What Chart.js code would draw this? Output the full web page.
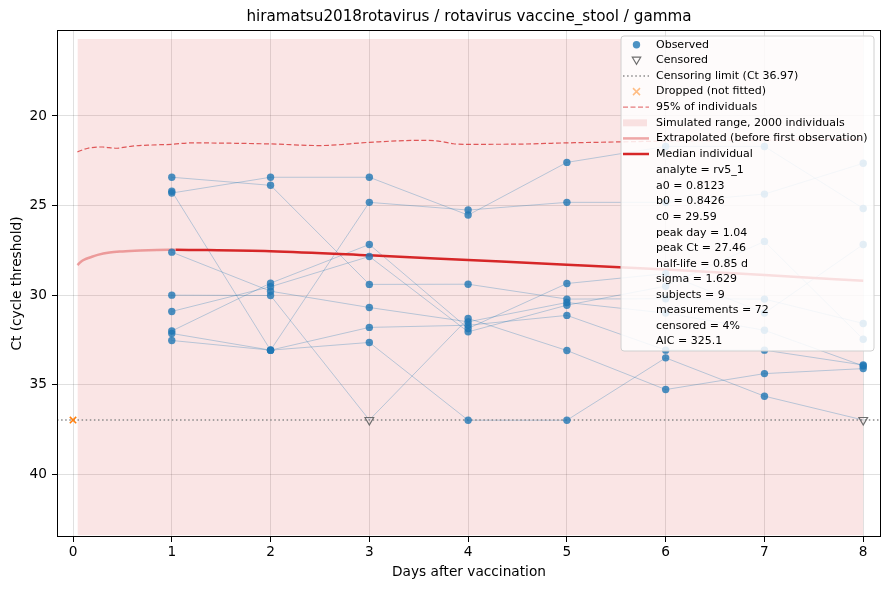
<!DOCTYPE html>
<html><head><meta charset="utf-8">
<script src="https://cdn.jsdelivr.net/npm/chart.js@4.4.1/dist/chart.umd.min.js"></script>
<style>html,body{margin:0;padding:0;background:#fff}#wrap{width:889px;height:590px;position:relative}</style>
</head><body><div id="wrap"><canvas id="c" width="889" height="590"></canvas></div>
<script>
// ---------------- data ----------------
const titleText = 'hiramatsu2018rotavirus / rotavirus vaccine_stool / gamma';
const xLabel = 'Days after vaccination';
const yLabel = 'Ct (cycle threshold)';
const xTicks = [0,1,2,3,4,5,6,7,8];
const yTicks = [20,25,30,35,40];
const days = [1,2,3,4,5,6,7,8];
const censorLimit = 36.97;
// per-subject Ct values on days 1..8
const subj1 = [24.30, 23.42, 23.42, 25.53, 22.59, 21.70, 21.70, 25.16];
const subj2 = [24.20, 33.07, 24.82, 25.25, 24.82, 24.82, 24.36, 22.64];
const subj3 = [23.42, 23.87, 29.40, 29.39, 30.22, 30.20, 30.22, 31.58];
const subj4 = [32.53, 33.07, 32.64, 36.98, 36.98, 33.50, 35.64, 36.97];
const subj5 = [32.14, 33.07, 31.80, 31.68, 31.13, 33.07, 33.07, 33.90];
const subj6 = [32.00, 29.33, 27.17, 31.86, 29.35, 28.80, 31.00, 27.17];
const subj7 = [30.91, 29.53, 27.84, 32.05, 30.56, 29.50, 27.00, 32.46];
const subj8 = [27.60, 29.78, 30.69, 31.49, 30.41, 31.00, 31.96, 33.95];
const subj9 = [30.00, 30.02, 36.97, 31.30, 33.09, 35.27, 34.38, 34.10];
const subjects = [subj1, subj2, subj3, subj4, subj5, subj6, subj7, subj8, subj9];
// censored observations: subject number and day
const censoredSubject = [9, 4];
const censoredDay = [3, 8];
// dropped (not fitted)
const droppedDay = [0];
const droppedCt = [36.97];
// median individual (fitted), extrapolated part before first observation
const extrapDays = [0.045, 0.08, 0.12, 0.17, 0.25, 0.37, 0.5, 0.68, 0.85, 1.04];
const extrapCt   = [28.32, 28.13, 28.00, 27.90, 27.75, 27.62, 27.56, 27.51, 27.48, 27.46];
const medianDays = [1.04, 2, 3, 4, 5, 6, 7, 8];
const medianCt   = [27.46, 27.55, 27.78, 28.04, 28.30, 28.57, 28.88, 29.20];
// 95% of individuals
const p95Days = [0.045, 0.15, 0.3, 0.43, 0.6, 0.8, 1.0, 1.2, 1.6, 2.0, 2.5, 3.0, 3.5, 3.7, 3.85, 4.0, 4.5, 5.0, 5.5, 6.0, 7.0, 8.0];
const p95Ct   = [22.00, 21.80, 21.73, 21.80, 21.68, 21.62, 21.58, 21.50, 21.52, 21.56, 21.65, 21.47, 21.36, 21.40, 21.55, 21.58, 21.57, 21.50, 21.45, 21.40, 21.35, 21.30];
// simulated range
const bandDays = [0.045, 8];
const bandTop = [15.7, 15.7];
const bandBottom = [43.4, 43.4];
const legendItems = ['Observed','Censored','Censoring limit (Ct 36.97)','Dropped (not fitted)','95% of individuals','Simulated range, 2000 individuals','Extrapolated (before first observation)','Median individual'];
const legendStats = ['analyte = rv5_1','a0 = 0.8123','b0 = 0.8426','c0 = 29.59','peak day = 1.04','peak Ct = 27.46','half-life = 0.85 d','sigma = 1.629','subjects = 9','measurements = 72','censored = 4%','AIC = 325.1'];

// ---------------- build ----------------
const FONT = 'DejaVu Sans';
const isCens = (s, d) => censoredSubject.some((cs, k) => cs === s + 1 && censoredDay[k] === d);
const obsPts = [], censPts = [];
subjects.forEach((s, si) => days.forEach((d, di) => {
  if (isCens(si, d)) censPts.push({x: d, y: censorLimit}); else obsPts.push({x: d, y: s[di]});
}));
const zip = (xs, ys) => xs.map((x, i) => ({x, y: ys[i]}));
const XMIN = -0.162, XMAX = 8.18, YMIN = 15.2, YMAX = 43.5;

const datasets = [];
datasets.push({label:'obs', type:'scatter', data: obsPts, pointRadius:3.7, pointBackgroundColor:'rgba(31,119,180,0.8)', pointBorderWidth:0, pointBorderColor:'rgba(0,0,0,0)', order:1});
datasets.push({label:'cens', type:'scatter', data: censPts, pointStyle:'triangle', rotation:180, pointRadius:5, pointBackgroundColor:'rgba(255,255,255,0)', pointBorderColor:'#6e6e6e', pointBorderWidth:1.2, order:1});
datasets.push({label:'drop', type:'scatter', data: zip(droppedDay, droppedCt), pointStyle:'crossRot', pointRadius:4.5, pointBorderColor:'#ff7f0e', pointBorderWidth:1.6, order:1, clip:false});
datasets.push({label:'median', type:'line', data: zip(medianDays, medianCt), borderColor:'#d62728', borderWidth:2.5, pointRadius:0, cubicInterpolationMode:'monotone', order:2});
datasets.push({label:'extrap', type:'line', data: zip(extrapDays, extrapCt), borderColor:'rgba(214,39,40,0.4)', borderWidth:2.5, pointRadius:0, cubicInterpolationMode:'monotone', order:2});
datasets.push({label:'p95', type:'line', data: zip(p95Days, p95Ct), borderColor:'rgba(214,39,40,0.75)', borderWidth:1.2, borderDash:[5,2.5], pointRadius:0, cubicInterpolationMode:'monotone', order:3});
datasets.push({label:'limit', type:'line', data: [{x:XMIN,y:censorLimit},{x:XMAX,y:censorLimit}], borderColor:'#8a8a8a', borderWidth:1.5, borderDash:[1.5,2.6], pointRadius:0, order:4});
subjects.forEach((s, si) => datasets.push({label:'s'+(si+1), type:'line', data: zip(days, s.map((v, di) => isCens(si, days[di]) ? censorLimit : v)), borderColor:'rgba(31,119,180,0.3)', borderWidth:1, pointRadius:0, order:5}));
datasets.push({label:'bandTop', type:'line', data: zip(bandDays, bandTop), borderWidth:0, borderColor:'rgba(0,0,0,0)', pointRadius:0, fill:'+1', backgroundColor:'rgba(214,39,40,0.12)', order:10});
datasets.push({label:'bandBottom', type:'line', data: zip(bandDays, bandBottom), borderWidth:0, borderColor:'rgba(0,0,0,0)', pointRadius:0, fill:false, order:11});

const overlay = {
  id: 'overlay',
  afterDraw(chart) {
    const ctx = chart.ctx, a = chart.chartArea;
    ctx.save();
    // frame
    ctx.strokeStyle = '#000'; ctx.lineWidth = 1;
    ctx.strokeRect(Math.round(a.left) + 0.5, Math.round(a.top) + 0.5, Math.round(a.right - a.left) - 1, Math.round(a.bottom - a.top) - 1);
    // title
    ctx.fillStyle = '#000'; ctx.font = '15.2px "' + FONT + '"';
    ctx.textAlign = 'center'; ctx.textBaseline = 'middle';
    ctx.fillText(titleText, (a.left + a.right) / 2, 17);
    // legend box
    const bx = 621, by = 36, bw = 253, bh = 315, r = 3;
    ctx.beginPath();
    ctx.moveTo(bx + r, by); ctx.lineTo(bx + bw - r, by); ctx.quadraticCurveTo(bx + bw, by, bx + bw, by + r);
    ctx.lineTo(bx + bw, by + bh - r); ctx.quadraticCurveTo(bx + bw, by + bh, bx + bw - r, by + bh);
    ctx.lineTo(bx + r, by + bh); ctx.quadraticCurveTo(bx, by + bh, bx, by + bh - r);
    ctx.lineTo(bx, by + r); ctx.quadraticCurveTo(bx, by, bx + r, by); ctx.closePath();
    ctx.fillStyle = 'rgba(255,255,255,0.85)'; ctx.fill();
    ctx.strokeStyle = '#d0d0d0'; ctx.lineWidth = 1; ctx.stroke();
    // handles
    const hx0 = 623, hx1 = 649, hc = 636.5, tx = 656;
    const rowY = i => 44.8 + i * 15.6;
    ctx.lineCap = 'butt';
    // observed
    ctx.fillStyle = 'rgba(31,119,180,0.8)';
    ctx.beginPath(); ctx.arc(hc, rowY(0), 3.7, 0, Math.PI * 2); ctx.fill();
    // censored triangle down
    ctx.strokeStyle = '#6e6e6e'; ctx.lineWidth = 1.2;
    ctx.beginPath(); const ty = rowY(1);
    ctx.moveTo(hc - 4.2, ty - 3.2); ctx.lineTo(hc + 4.2, ty - 3.2); ctx.lineTo(hc, ty + 4); ctx.closePath(); ctx.stroke();
    // censoring limit
    const hline = (y, color, w, dash) => { ctx.strokeStyle = color; ctx.lineWidth = w; ctx.setLineDash(dash); ctx.beginPath(); ctx.moveTo(hx0, y); ctx.lineTo(hx1, y); ctx.stroke(); ctx.setLineDash([]); };
    hline(rowY(2), '#8a8a8a', 1.5, [1.5, 2.6]);
    // dropped x
    ctx.strokeStyle = 'rgba(255,127,14,0.5)'; ctx.lineWidth = 1.5;
    const dy = rowY(3);
    ctx.beginPath(); ctx.moveTo(hc - 3.5, dy - 3.5); ctx.lineTo(hc + 3.5, dy + 3.5); ctx.moveTo(hc - 3.5, dy + 3.5); ctx.lineTo(hc + 3.5, dy - 3.5); ctx.stroke();
    hline(rowY(4), 'rgba(214,39,40,0.6)', 1.2, [5, 2.5]);
    ctx.fillStyle = 'rgba(214,39,40,0.12)'; ctx.fillRect(hx0, rowY(5) - 3.5, hx1 - hx0 - 2, 7);
    hline(rowY(6), 'rgba(214,39,40,0.4)', 2.5, []);
    hline(rowY(7), '#d62728', 2.5, []);
    // text
    ctx.fillStyle = '#000'; ctx.font = '11px "' + FONT + '"'; ctx.textAlign = 'left'; ctx.textBaseline = 'middle';
    legendItems.forEach((t, i) => ctx.fillText(t, tx, rowY(i)));
    legendStats.forEach((t, i) => ctx.fillText(t, tx, 170.5 + i * 15.55));
    ctx.restore();
  }
};

Chart.defaults.font.family = FONT;
Chart.defaults.color = '#000';
new Chart(document.getElementById('c'), {
  type: 'line',
  data: { datasets },
  options: {
    responsive: false, animation: false, devicePixelRatio: 1,
    layout: { padding: { top: 30, right: 8, left: 0, bottom: 0 } },
    plugins: { legend: { display: false }, tooltip: { enabled: false }, title: { display: false } },
    scales: {
      x: {
        type: 'linear', min: XMIN, max: XMAX,
        afterBuildTicks: s => { s.ticks = xTicks.map(v => ({ value: v })); },
        afterFit: s => { s.height = 53; },
        ticks: { font: { size: 13.7 }, padding: 2, color: '#000', maxRotation: 0, autoSkip: false },
        grid: { color: 'rgba(0,0,0,0.12)', lineWidth: 1, tickLength: 5, tickColor: '#000', tickWidth: 1 },
        border: { display: false },
        title: { display: true, text: xLabel, font: { size: 13.7 }, color: '#000', padding: { top: 0, bottom: 9.8 } }
      },
      y: {
        type: 'linear', reverse: true, min: YMIN, max: YMAX,
        afterBuildTicks: s => { s.ticks = yTicks.map(v => ({ value: v })); },
        afterFit: s => { s.width = 57; },
        ticks: { font: { size: 13.7 }, padding: 5, color: '#000', autoSkip: false },
        grid: { color: 'rgba(0,0,0,0.12)', lineWidth: 1, tickLength: 5, tickColor: '#000', tickWidth: 1 },
        border: { display: false },
        title: { display: true, text: yLabel, font: { size: 13.7 }, color: '#000', padding: { top: 8.8, bottom: 0 } }
      }
    }
  },
  plugins: [overlay]
});
</script>
</body></html>
